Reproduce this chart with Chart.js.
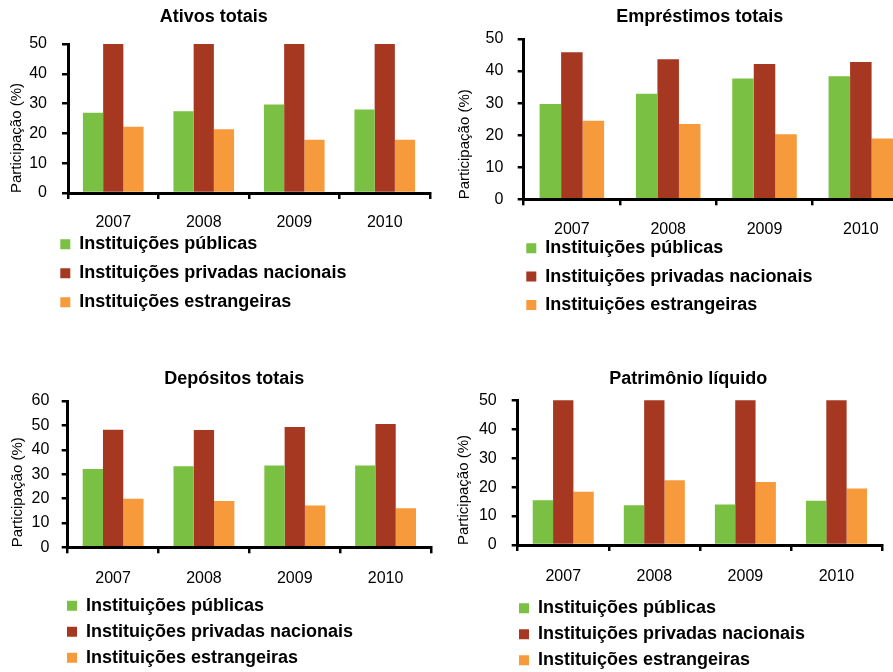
<!DOCTYPE html>
<html>
<head>
<meta charset="utf-8">
<script src="https://cdn.jsdelivr.net/npm/chart.js@4/dist/chart.umd.min.js"></script>
<style>
  html, body { margin: 0; padding: 0; background: #ffffff; overflow: hidden; }
  #wrap { position: relative; width: 893px; height: 672px; overflow: hidden; background: #ffffff; }
  canvas { position: absolute; }
</style>
</head>
<body>
<div id="wrap">
  <canvas id="c1"></canvas>
  <canvas id="c2"></canvas>
  <canvas id="c3"></canvas>
  <canvas id="c4"></canvas>
</div>
<script>
// ---- Data ----
const years = ['2007', '2008', '2009', '2010'];
const seriesNames = ['Instituições públicas', 'Instituições privadas nacionais', 'Instituições estrangeiras'];
const seriesColors = ['#7AC143', '#A63822', '#F79A3B'];

const ativosPublicas = [26.9, 27.4, 29.7, 28.0];
const ativosPrivadas = [50.9, 51.2, 52.4, 54.1];
const ativosEstrangeiras = [22.2, 21.4, 17.9, 17.9];

const emprestimosPublicas = [29.7, 32.9, 37.7, 38.4];
const emprestimosPrivadas = [45.9, 43.7, 42.2, 42.8];
const emprestimosEstrangeiras = [24.5, 23.5, 20.3, 19.0];

const depositosPublicas = [32.1, 33.2, 33.5, 33.5];
const depositosPrivadas = [48.2, 48.1, 49.3, 50.6];
const depositosEstrangeiras = [19.9, 19.0, 17.1, 16.0];

const patrimonioPublicas = [15.5, 13.7, 14.0, 15.3];
const patrimonioPrivadas = [66.1, 63.9, 64.2, 65.2];
const patrimonioEstrangeiras = [18.4, 22.4, 21.8, 19.5];

const yAxisLabel = 'Participação (%)';

// ---- Layout (page coordinates) ----
const panels = [
  { id: 'c1', title: 'Ativos totais', data: [ativosPublicas, ativosPrivadas, ativosEstrangeiras], yMax: 50,
    box: { x: 0, y: 0, w: 446, h: 340 }, area: { L: 68, R: 430, T: 44, B: 193 },
    titlePos: { x: 213.8, y: 17 }, legendPos: { x: 60.3, y: 244.3, gap: 29 },
    yTitleCenter: 17, yTickPad: 15, xTickPad: 14.4 },
  { id: 'c2', title: 'Empréstimos totais', data: [emprestimosPublicas, emprestimosPrivadas, emprestimosEstrangeiras], yMax: 50,
    box: { x: 446, y: 0, w: 480, h: 340 }, area: { L: 523.7, R: 909, T: 39, B: 199.3 },
    titlePos: { x: 699.8, y: 16.7 }, legendPos: { x: 526.3, y: 248.3, gap: 28.3 },
    yTitleCenter: 465, yTickPad: 14.4, xTickPad: 15.1 },
  { id: 'c3', title: 'Depósitos totais', data: [depositosPublicas, depositosPrivadas, depositosEstrangeiras], yMax: 60,
    box: { x: 0, y: 345, w: 446, h: 327 }, area: { L: 67.7, R: 431, T: 401, B: 547.3 },
    titlePos: { x: 234.3, y: 379 }, legendPos: { x: 67, y: 605.7, gap: 26 },
    yTitleCenter: 18.3, yTickPad: 12.4, xTickPad: 16.1 },
  { id: 'c4', title: 'Patrimônio líquido', data: [patrimonioPublicas, patrimonioPrivadas, patrimonioEstrangeiras], yMax: 50,
    box: { x: 446, y: 345, w: 447, h: 327 }, area: { L: 517.7, R: 882, T: 400.3, B: 545 },
    titlePos: { x: 688.3, y: 379 }, legendPos: { x: 519, y: 608.3, gap: 26 },
    yTitleCenter: 464.3, yTickPad: 15, xTickPad: 16.1 }
];

const FONT = "'Liberation Sans', Arial, Helvetica, sans-serif";
Chart.defaults.font.family = FONT;
Chart.defaults.color = '#000000';

const TITLE_SIZE = 18;
const TICK_SIZE = 16;
const AXIS_TITLE_SIZE = 15;
const LEGEND_SIZE = 18;
const X_AXIS_H = 40;

// Plugin that places the title and legend boxes at given spots
const placeBoxes = {
  id: 'placeBoxes',
  afterLayout(chart, args, o) {
    const t = chart.titleBlock;
    if (t && o.title) {
      const lh = t.options.font.size * 1.2;
      const w = t.right - t.left, h = t.bottom - t.top;
      t.left = o.title.x - w / 2; t.right = t.left + w;
      t.top = o.title.y - lh / 2; t.bottom = t.top + h;
    }
    const l = chart.legend;
    if (l && o.legend) {
      const pad = l.options.labels.padding;
      const fs = l.options.labels.font.size;
      const ih = Math.max(fs, l.options.labels.boxHeight || fs);
      const w = l.width, h = l.height;
      l.left = o.legend.x - pad; l.right = l.left + w;
      l.top = o.legend.y - ih / 2 - pad; l.bottom = l.top + h;
    }
  }
};

panels.forEach(p => {
  const cv = document.getElementById(p.id);
  cv.width = p.box.w; cv.height = p.box.h;
  cv.style.left = p.box.x + 'px'; cv.style.top = p.box.y + 'px';
  cv.style.width = p.box.w + 'px'; cv.style.height = p.box.h + 'px';

  const yw = p.area.L - p.box.x;
  const titleH = TITLE_SIZE * 1.2;
  const padding = {
    left: 0,
    right: p.box.x + p.box.w - p.area.R,
    top: p.area.T - p.box.y - titleH,
    bottom: p.box.y + p.box.h - p.area.B - X_AXIS_H
  };
  const yTitlePadTop = p.yTitleCenter - p.box.x - AXIS_TITLE_SIZE * 1.2 / 2;

  new Chart(cv, {
    type: 'bar',
    data: {
      labels: years,
      datasets: seriesNames.map((name, i) => ({
        label: name,
        data: p.data[i],
        backgroundColor: seriesColors[i],
        borderWidth: 0,
        clip: 0,
        categoryPercentage: 0.67,
        barPercentage: 1.0
      }))
    },
    options: {
      responsive: false,
      animation: false,
      devicePixelRatio: 1,
      layout: { padding },
      scales: {
        x: {
          offset: true,
          ticks: { padding: p.xTickPad, color: '#000', font: { size: TICK_SIZE } },
          grid: { offset: true, drawOnChartArea: false, drawTicks: true, tickLength: 6, color: '#000', lineWidth: 2.5 },
          border: { display: true, color: '#000', width: 3 },
          afterFit: s => { s.height = X_AXIS_H; }
        },
        y: {
          min: 0, max: p.yMax,
          ticks: { stepSize: 10, padding: p.yTickPad, color: '#000', font: { size: TICK_SIZE } },
          grid: { drawOnChartArea: false, drawTicks: true, tickLength: 6, color: '#000', lineWidth: 2.5 },
          border: { display: true, color: '#000', width: 3 },
          title: { display: true, text: yAxisLabel, align: 'start', color: '#000',
                   font: { size: AXIS_TITLE_SIZE }, padding: { top: yTitlePadTop, bottom: 0 } },
          afterFit: s => { s.width = yw; }
        }
      },
      plugins: {
        title: { display: true, text: p.title, color: '#000', padding: 0,
                 font: { size: TITLE_SIZE, weight: 'bold' } },
        legend: {
          display: true, position: 'chartArea', align: 'start',
          labels: { boxWidth: 10, boxHeight: 10, padding: p.legendPos.gap - LEGEND_SIZE,
                    color: '#000', font: { size: LEGEND_SIZE, weight: 'bold' } }
        },
        tooltip: { enabled: false },
        placeBoxes: {
          title: { x: p.titlePos.x - p.box.x, y: p.titlePos.y - p.box.y },
          legend: { x: p.legendPos.x - p.box.x, y: p.legendPos.y - p.box.y }
        }
      }
    },
    plugins: [placeBoxes]
  });
});
</script>
</body>
</html>
